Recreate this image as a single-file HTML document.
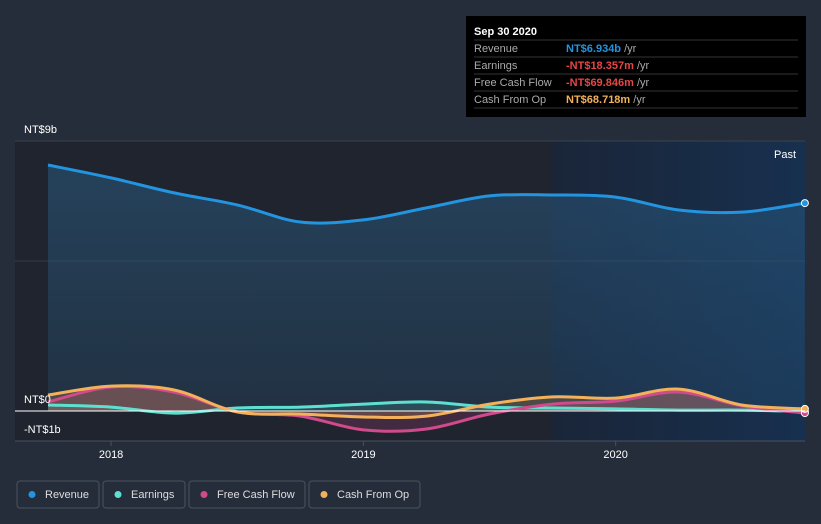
<!DOCTYPE html>
<html><head><meta charset="utf-8"><style>
body{margin:0;background:#262d3a;font-family:"Liberation Sans",sans-serif;}
svg{display:block}
</style></head><body>
<svg id="c" width="821" height="524">
<rect width="821" height="524" fill="#262d3a"/>
<defs>
<linearGradient id="past" x1="0" x2="1" y1="0" y2="0"><stop offset="0" stop-color="#1a2538"/><stop offset="1" stop-color="#17304f"/></linearGradient>
<linearGradient id="revg" x1="0" x2="0" y1="0" y2="1"><stop offset="0" stop-color="#2a5a80" stop-opacity="0.55"/><stop offset="1" stop-color="#2a5a80" stop-opacity="0.25"/></linearGradient>
</defs>
<rect x="15" y="141" width="790" height="300" fill="#1f242e"/>
<rect x="552" y="141" width="253" height="300" fill="url(#past)"/>
<line x1="15" y1="141" x2="805" y2="141" stroke="#3a4150"/>
<line x1="15" y1="261" x2="805" y2="261" stroke="#343b48"/>
<text x="774" y="158" fill="#fff" font-size="11">Past</text>
<text x="24" y="133" fill="#fff" font-size="11">NT$9b</text>
<g id="series"></g>
<line x1="15" y1="411" x2="805" y2="411" stroke="#fff" stroke-width="1"/>
<text x="24" y="403" fill="#fff" font-size="11">NT$0</text>
<text x="24" y="433" fill="#fff" font-size="11">-NT$1b</text>
<line x1="15" y1="441" x2="805" y2="441" stroke="#4a5160"/>
<g id="xt"></g>
<g>
<rect x="466" y="16" width="340" height="101" fill="#000"/>
<text x="474" y="35" fill="#fff" font-size="11" font-weight="bold">Sep 30 2020</text>
<g stroke="#333" stroke-width="1"><line x1="474" y1="40" x2="798" y2="40"/><line x1="474" y1="57" x2="798" y2="57"/><line x1="474" y1="74" x2="798" y2="74"/><line x1="474" y1="91" x2="798" y2="91"/><line x1="474" y1="108" x2="798" y2="108"/></g>
<g font-size="11"><text x="474" y="52" fill="#aaa">Revenue</text><text x="566" y="52" fill="#2394df" font-weight="bold">NT$6.934b <tspan fill="#aaa" font-weight="normal">/yr</tspan></text>
<text x="474" y="69" fill="#aaa">Earnings</text><text x="566" y="69" fill="#e64646" font-weight="bold">-NT$18.357m <tspan fill="#aaa" font-weight="normal">/yr</tspan></text>
<text x="474" y="86" fill="#aaa">Free Cash Flow</text><text x="566" y="86" fill="#e64646" font-weight="bold">-NT$69.846m <tspan fill="#aaa" font-weight="normal">/yr</tspan></text>
<text x="474" y="103" fill="#aaa">Cash From Op</text><text x="566" y="103" fill="#f2b15a" font-weight="bold">NT$68.718m <tspan fill="#aaa" font-weight="normal">/yr</tspan></text></g>
</g>
<g id="legend"></g>
</svg>
<script>
const dates=[2017.75,2018,2018.25,2018.5,2018.75,2019,2019.25,2019.5,2019.75,2020,2020.25,2020.5,2020.75];
const revenue=[8.2,7.77,7.27,6.87,6.3,6.37,6.77,7.17,7.2,7.13,6.7,6.63,6.93];
const earnings=[0.2,0.13,-0.07,0.1,0.13,0.23,0.3,0.13,0.1,0.07,0.03,0.03,-0.02];
const fcf=[0.3,0.8,0.63,-0.03,-0.17,-0.63,-0.6,-0.1,0.23,0.33,0.63,0.17,-0.07];
const cfo=[0.53,0.83,0.7,-0.03,-0.1,-0.2,-0.17,0.23,0.47,0.43,0.73,0.2,0.07];
const xTicks=[2018,2019,2020];
const NS="http://www.w3.org/2000/svg";
const X=d=>48+(d-2017.75)*252.3;
const Y=v=>411-v*30;
function path(vals){
 const p=vals.map((v,i)=>[X(dates[i]),Y(v)]);
 let d="M"+p[0][0]+","+p[0][1];
 for(let i=0;i<p.length-1;i++){
  const p0=p[Math.max(0,i-1)],p1=p[i],p2=p[i+1],p3=p[Math.min(p.length-1,i+2)];
  const c1=[p1[0]+(p2[0]-p0[0])/6,p1[1]+(p2[1]-p0[1])/6];
  const c2=[p2[0]-(p3[0]-p1[0])/6,p2[1]-(p3[1]-p1[1])/6];
  d+=`C${c1[0]},${c1[1]} ${c2[0]},${c2[1]} ${p2[0]},${p2[1]}`;
 }
 return d;
}
const g=document.getElementById("series");
const series=[["revenue",revenue,"#2394df","url(#revg)"],["earnings",earnings,"#5ee0d0","rgba(94,224,208,0.15)"],["free-cash-flow",fcf,"#d04a8c","rgba(208,74,140,0.2)"],["cash-from-op",cfo,"#f2b15a","rgba(242,177,90,0.2)"]];
const x0=X(dates[0]),x1=X(dates[dates.length-1]);
series.forEach(([n,v,c,f])=>{
 const d=path(v);
 const a=document.createElementNS(NS,"path");
 a.setAttribute("d",d+`L${x1},411L${x0},411Z`);a.setAttribute("fill",f);
 
 
 g.appendChild(a);
});
series.forEach(([n,v,c])=>{
 const l=document.createElementNS(NS,"path");
 l.setAttribute("d",path(v));l.setAttribute("fill","none");l.setAttribute("stroke",c);l.setAttribute("stroke-width","3");
 
 
 g.appendChild(l);
 const e=document.createElementNS(NS,"circle");
 e.setAttribute("cx",x1);e.setAttribute("cy",Y(v[v.length-1]));e.setAttribute("r","3.5");e.setAttribute("fill",c);e.setAttribute("stroke","#fff");e.setAttribute("stroke-width","1");
 
 
 g.appendChild(e);
});
const xt=document.getElementById("xt");
xTicks.forEach(t=>{
 const l=document.createElementNS(NS,"line");
 l.setAttribute("x1",X(t));l.setAttribute("x2",X(t));l.setAttribute("y1",441);l.setAttribute("y2",446);l.setAttribute("stroke","#4a5160");
 
 
 xt.appendChild(l);
 const s=document.createElementNS(NS,"text");
 s.setAttribute("x",X(t));s.setAttribute("y",458);s.setAttribute("fill","#fff");s.setAttribute("font-size","11");s.setAttribute("text-anchor","middle");
 s.textContent=t;
 
 
 xt.appendChild(s);
});
const lg=document.getElementById("legend");
const items=[["Revenue","#2394df",17,82],["Earnings","#5ee0d0",103,82],["Free Cash Flow","#d04a8c",189,116],["Cash From Op","#f2b15a",309,111]];
items.forEach(([t,c,x,w])=>{
 const gg=document.createElementNS(NS,"g");
 
 
 gg.innerHTML=`<rect x="${x}" y="481" width="${w}" height="27" rx="3" fill="none" stroke="#4a5160"/><circle cx="${x+15}" cy="494.5" r="3.5" fill="${c}"/><text x="${x+28}" y="498" fill="#ddd" font-size="11">${t}</text>`;
 lg.appendChild(gg);
});
</script>
</body></html>
